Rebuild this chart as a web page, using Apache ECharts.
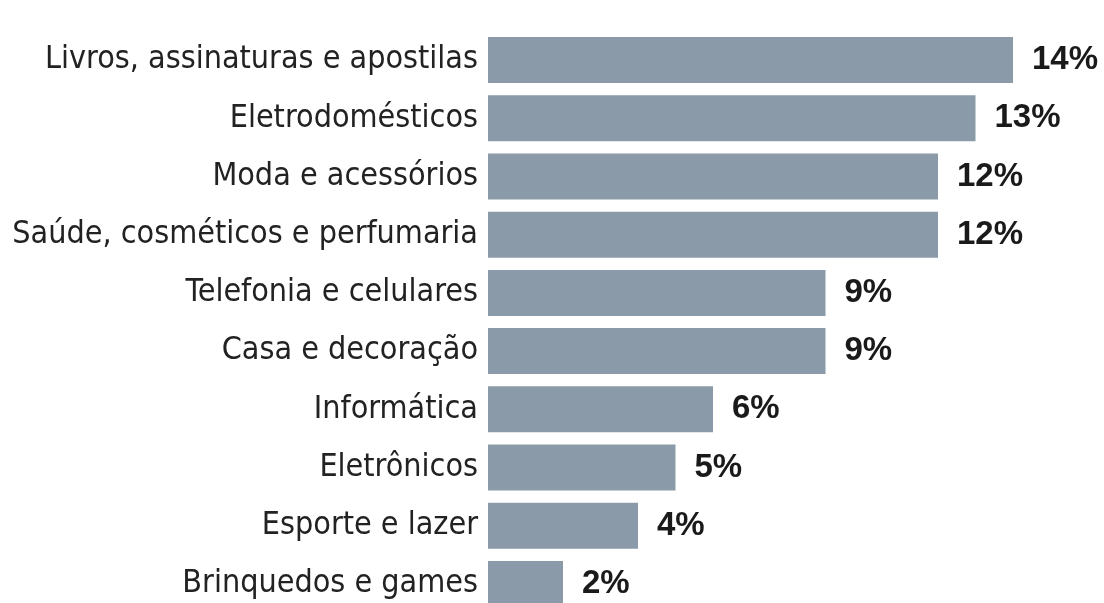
<!DOCTYPE html>
<html>
<head>
<meta charset="utf-8">
<script src="https://cdn.jsdelivr.net/npm/echarts@6/dist/echarts.min.js"></script>
<style>
html,body{margin:0;padding:0;background:#fff;}
#chart{width:1104px;height:603px;}
</style>
</head>
<body>
<div id="chart"></div>
<script>
const categories = [
  "Livros, assinaturas e apostilas",
  "Eletrodomésticos",
  "Moda e acessórios",
  "Saúde, cosméticos e perfumaria",
  "Telefonia e celulares",
  "Casa e decoração",
  "Informática",
  "Eletrônicos",
  "Esporte e lazer",
  "Brinquedos e games"
];
const values = [14, 13, 12, 12, 9, 9, 6, 5, 4, 2];

const chart = echarts.init(document.getElementById('chart'));
chart.setOption({
  backgroundColor: '#ffffff',
  animation: false,
  grid: { left: 488, top: 31, width: 600, height: 582, containLabel: false, outerBoundsMode: 'none' },
  xAxis: {
    type: 'value', min: 0, max: 16,
    show: false
  },
  yAxis: {
    type: 'category',
    inverse: true,
    data: categories,
    axisLine: { show: false },
    axisTick: { show: false },
    splitLine: { show: false },
    axisLabel: {
      margin: 10,
      color: '#222222',
      fontSize: 32,
      fontFamily: "'Liberation Sans Narrow', 'DejaVu Sans Condensed', sans-serif"
    }
  },
  series: [{
    type: 'bar',
    data: values,
    barWidth: 46,
    itemStyle: { color: '#8a9aa9' },
    label: {
      show: true,
      position: 'right',
      distance: 19,
      formatter: p => p.value + '%',
      color: '#1a1a1a',
      fontSize: 33,
      fontWeight: 'bold',
      fontFamily: "'Liberation Sans', Arial, sans-serif"
    }
  }]
});
</script>
</body>
</html>
